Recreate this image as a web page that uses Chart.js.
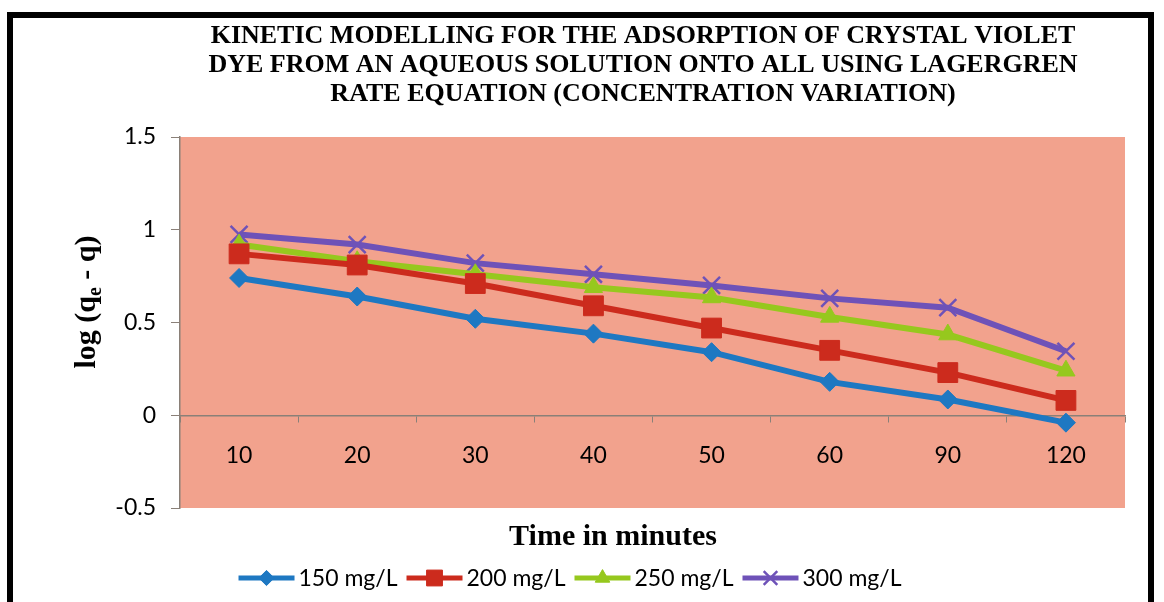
<!DOCTYPE html>
<html>
<head>
<meta charset="utf-8">
<title>Lagergren kinetic plot</title>
<script src="https://cdn.jsdelivr.net/npm/chart.js@4.4.0/dist/chart.umd.min.js"></script>
<style>
  html, body { margin: 0; padding: 0; background: #fff; }
  #wrap { position: relative; width: 1164px; height: 602px; }
</style>
</head>
<body>
<div id="wrap"><canvas id="chart"></canvas></div>
<script>
// time in minutes (category axis)
const times = ["10", "20", "30", "40", "50", "60", "90", "120"];

// log(qe - q) for each initial dye concentration
const c150 = [0.74, 0.64, 0.52, 0.44, 0.34, 0.18, 0.085, -0.04];
const c200 = [0.87, 0.81, 0.71, 0.59, 0.47, 0.35, 0.23, 0.08];
const c250 = [0.92, 0.83, 0.76, 0.69, 0.635, 0.53, 0.435, 0.24];
const c300 = [0.975, 0.92, 0.82, 0.76, 0.70, 0.63, 0.58, 0.345];

const seriesNames = ["150 mg/L", "200 mg/L", "250 mg/L", "300 mg/L"];
const yMin = -0.5, yMax = 1.5, yStep = 0.5;

const titleLines = [
  "KINETIC MODELLING FOR THE ADSORPTION OF CRYSTAL VIOLET",
  "DYE FROM AN AQUEOUS SOLUTION ONTO ALL USING LAGERGREN",
  "RATE EQUATION (CONCENTRATION VARIATION)"
];
const xTitle = "Time in minutes";

const plotColor = "#F2A28D";
const axisColor = "#8a8078";
const serif = '"Liberation Serif", "Times New Roman", serif';
const sans = 'Lato, "Open Sans", sans-serif';

function series(label, data, color, style, radius) {
  return {
    label: label,
    data: data,
    borderColor: color,
    backgroundColor: color,
    borderWidth: 6,
    pointStyle: style,
    pointRadius: radius,
    pointBorderWidth: style === "crossRot" ? 2.5 : 1,
    pointBackgroundColor: color,
    pointBorderColor: color,
    tension: 0
  };
}

// titles, border, plot fill and the Excel-like legend
const excelText = {
  id: "excelText",
  beforeDraw(chart) {
    const ctx = chart.ctx;
    const a = chart.chartArea;
    ctx.save();
    ctx.fillStyle = "#fff";
    ctx.fillRect(0, 0, chart.width, chart.height);
    ctx.lineWidth = 6;
    ctx.strokeStyle = "#000";
    ctx.strokeRect(10, 15, 1141, 640);
    ctx.fillStyle = plotColor;
    ctx.fillRect(a.left, a.top, a.right - a.left, a.bottom - a.top);
    ctx.restore();
  },
  afterDraw(chart) {
    const ctx = chart.ctx;
    ctx.save();
    ctx.fillStyle = "#000";

    // main title
    ctx.font = "bold 26px " + serif;
    ctx.textAlign = "center";
    ctx.textBaseline = "middle";
    titleLines.forEach((t, i) => ctx.fillText(t, 643, 36 + i * 29));

    // x title
    ctx.font = "bold 30px " + serif;
    ctx.fillText(xTitle, 613, 537);

    // y title with subscript e
    ctx.save();
    ctx.translate(95, 302);
    ctx.rotate(-Math.PI / 2);
    ctx.textAlign = "left";
    ctx.textBaseline = "alphabetic";
    const big = "bold 30px " + serif, small = "bold 20px " + serif;
    const p1 = "log (q", p2 = "e", p3 = " - q)";
    ctx.font = big;
    const w1 = ctx.measureText(p1).width, w3 = ctx.measureText(p3).width;
    ctx.font = small;
    const w2 = ctx.measureText(p2).width;
    let x = -(w1 + w2 + w3) / 2;
    ctx.font = big; ctx.fillText(p1, x, 0); x += w1;
    ctx.font = small; ctx.fillText(p2, x, 6); x += w2;
    ctx.font = big; ctx.fillText(p3, x, 0);
    ctx.restore();

    // legend
    const ds = chart.data.datasets;
    const lineW = 56, gapAfterLine = 4, gapItems = 9;
    ctx.font = "23px " + sans;
    const widths = ds.map(d => lineW + gapAfterLine + ctx.measureText(d.label).width);
    const total = widths.reduce((s, w) => s + w, 0) + gapItems * (ds.length - 1);
    let lx = 570 - total / 2;
    const ly = 578;
    ds.forEach((d, i) => {
      ctx.strokeStyle = d.borderColor;
      ctx.fillStyle = d.backgroundColor;
      ctx.lineWidth = 5;
      ctx.beginPath();
      ctx.moveTo(lx, ly);
      ctx.lineTo(lx + lineW, ly);
      ctx.stroke();
      ctx.lineWidth = d.pointBorderWidth;
      Chart.helpers.drawPoint(ctx, {
        pointStyle: d.pointStyle,
        radius: d.pointRadius * 0.8,
        borderWidth: d.pointBorderWidth,
        rotation: 0
      }, lx + lineW / 2, ly);
      ctx.fillStyle = "#000";
      ctx.textAlign = "left";
      ctx.textBaseline = "middle";
      ctx.fillText(d.label, lx + lineW + gapAfterLine, ly + 1);
      lx += widths[i] + gapItems;
    });
    ctx.restore();
  }
};

new Chart(document.getElementById("chart"), {
  type: "line",
  data: {
    labels: times,
    datasets: [
      series(seriesNames[0], c150, "#1E78C2", "rectRot", 9.5),
      series(seriesNames[1], c200, "#CC2B1D", "rect", 14),
      series(seriesNames[2], c250, "#96C81E", "triangle", 10.5),
      series(seriesNames[3], c300, "#6E52B8", "crossRot", 12)
    ]
  },
  options: {
    responsive: true,
    maintainAspectRatio: false,
    animation: false,
    layout: { padding: { left: 0, top: 137, right: 39, bottom: 94 } },
    plugins: {
      legend: { display: false },
      title: { display: false },
      tooltip: { enabled: false }
    },
    scales: {
      x: {
        type: "category",
        position: { y: 0 },
        offset: true,
        grid: { offset: true, drawOnChartArea: false, drawTicks: true, tickLength: 6, color: axisColor },
        border: { color: axisColor, width: 1.5 },
        ticks: { color: "#000", font: { family: sans, size: 23 }, padding: 21, maxRotation: 0, autoSkip: false }
      },
      y: {
        min: yMin,
        max: yMax,
        grid: { drawOnChartArea: false, drawTicks: true, tickLength: 9, color: axisColor },
        border: { color: axisColor, width: 1.5 },
        ticks: {
          stepSize: yStep,
          color: "#000",
          font: { family: sans, size: 23 },
          padding: 15,
          callback: v => String(Math.round(v * 10) / 10)
        },
        afterFit(scale) { scale.width = 180; }
      }
    }
  },
  plugins: [excelText]
});
</script>
</body>
</html>
